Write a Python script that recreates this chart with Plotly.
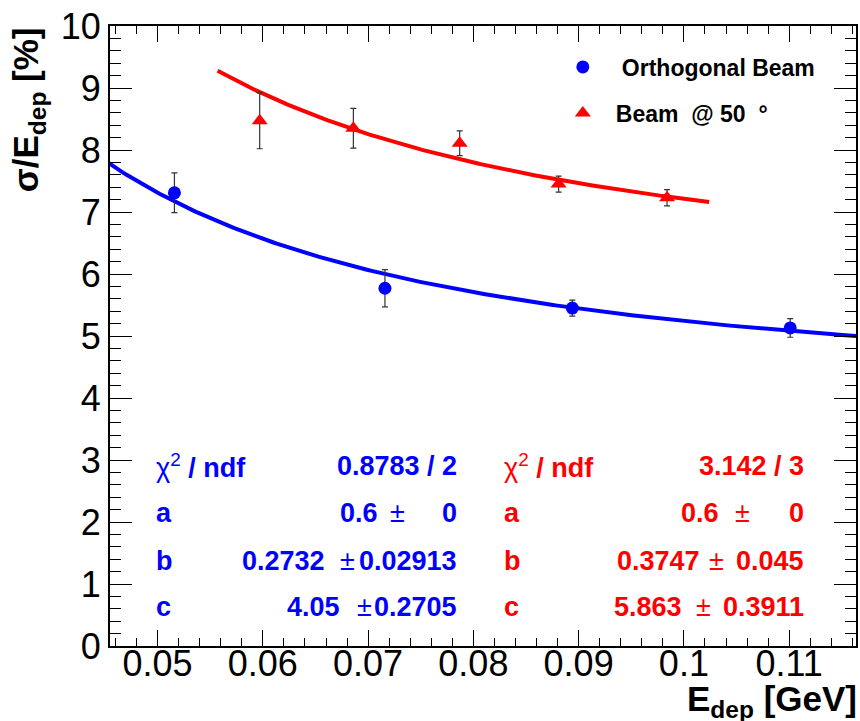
import numpy as np
import plotly.graph_objects as go

# ---------------- data ----------------
blue_x = [0.0516, 0.0716, 0.0894, 0.1101]
blue_y = [7.31, 5.77, 5.45, 5.13]
blue_err = [0.32, 0.30, 0.13, 0.15]

red_x = [0.0597, 0.0686, 0.0787, 0.0881, 0.0984]
red_y = [8.47, 8.35, 8.11, 7.45, 7.23]
red_err = [0.45, 0.32, 0.20, 0.13, 0.13]

# fit parameters  sigma/E = sqrt(a^2/E + b^2/E^2 + c^2)
blue_par = [0.6, 0.2732, 4.05]
red_par = [0.6, 0.3747, 5.863]
blue_fit_range = [0.044, 0.118]
red_fit_range = [0.0557, 0.1024]

x_ticks = [0.05, 0.06, 0.07, 0.08, 0.09, 0.10, 0.11]
x_ticktext = ["0.05", "0.06", "0.07", "0.08", "0.09", "0.1", "0.11"]
y_ticks = list(range(0, 11))

legend_labels = ["Orthogonal Beam", "Beam\u00a0\u00a0@ 50\u00a0\u00a0°"]

stat_labels = ["χ<sup>2</sup> / ndf", "a", "b", "c"]
blue_chi2 = "0.8783 / 2"
blue_vals = ["0.6", "0.2732", "4.05"]
blue_errs = ["0", "0.02913", "0.2705"]
red_chi2 = "3.142 / 3"
red_vals = ["0.6", "0.3747", "5.863"]
red_errs = ["0", "0.045", "0.3911"]

BLUE = "#0000ff"
RED = "#ff0000"
FONT = "Liberation Sans, Arial, sans-serif"

# ---------------- layout helpers (pixel -> paper) ----------------
W, H = 860, 721
L, R, T, B = 110, 2, 26, 75
PW, PH = W - L - R, H - T - B


def px(p):
    return (p - L) / PW


def py(p):
    return (H - B - p) / PH


def fit(par, xs):
    a, b, c = par
    xs = np.asarray(xs)
    return np.sqrt(a ** 2 / xs + (b / xs) ** 2 + c ** 2)


fig = go.Figure()

bx = np.linspace(blue_fit_range[0], blue_fit_range[1], 300)
rx = np.linspace(red_fit_range[0], red_fit_range[1], 300)
fig.add_trace(go.Scatter(x=bx, y=fit(blue_par, bx), mode="lines",
                         line=dict(color=BLUE, width=4), showlegend=False,
                         hoverinfo="skip"))
fig.add_trace(go.Scatter(x=rx, y=fit(red_par, rx), mode="lines",
                         line=dict(color=RED, width=4), showlegend=False,
                         hoverinfo="skip"))

fig.add_trace(go.Scatter(
    x=blue_x, y=blue_y, mode="markers", name="<b>" + legend_labels[0] + "</b>",
    marker=dict(symbol="circle", size=13, color=BLUE),
    error_y=dict(type="data", array=blue_err, color="#333333", thickness=1.2, width=3),
    legend="legend"))
fig.add_trace(go.Scatter(
    x=red_x, y=red_y, mode="markers", name="<b>" + legend_labels[1] + "</b>",
    marker=dict(symbol="triangle-up", size=14, color=RED),
    error_y=dict(type="data", array=red_err, color="#333333", thickness=1.2, width=3),
    legend="legend2"))

ann = []


def txt(text, x, y, color, size=27, xanchor="left", yanchor="middle", angle=0):
    ann.append(dict(text=text, x=px(x), y=py(y), xref="paper", yref="paper",
                    xanchor=xanchor, yanchor=yanchor, showarrow=False,
                    textangle=angle, font=dict(family=FONT, size=size, color=color)))


row_y = [466, 513, 561, 607]
# blue stats
txt("χ<sup>2</sup><b> / ndf</b>", 154, row_y[0], BLUE)
txt("<b>" + blue_chi2 + "</b>", 460, row_y[0], BLUE, xanchor="right")
for i, lab in enumerate(stat_labels[1:]):
    txt("<b>" + lab + "</b>", 154, row_y[i + 1], BLUE)
blue_val_right = [381, 328, 343]
blue_pm_center = [398, 348, 365]
for i in range(3):
    txt("<b>" + blue_vals[i] + "</b>", blue_val_right[i], row_y[i + 1], BLUE, xanchor="right")
    txt("±", blue_pm_center[i], row_y[i + 1], BLUE, xanchor="center")
    txt("<b>" + blue_errs[i] + "</b>", 460, row_y[i + 1], BLUE, xanchor="right")

# red stats
txt("χ<sup>2</sup><b> / ndf</b>", 503, row_y[0], RED)
txt("<b>" + red_chi2 + "</b>", 808, row_y[0], RED, xanchor="right")
for i, lab in enumerate(stat_labels[1:]):
    txt("<b>" + lab + "</b>", 503, row_y[i + 1], RED)
red_val_right = [723, 704, 686]
red_pm_center = [744, 718, 705]
for i in range(3):
    txt("<b>" + red_vals[i] + "</b>", red_val_right[i], row_y[i + 1], RED, xanchor="right")
    txt("±", red_pm_center[i], row_y[i + 1], RED, xanchor="center")
    txt("<b>" + red_errs[i] + "</b>", 808, row_y[i + 1], RED, xanchor="right")

# axis titles
txt("<b>E<sub>dep</sub> [GeV]</b>", 861, 701, "black", size=35, xanchor="right")
txt("<b>σ/E<sub>dep</sub> [%]</b>", 28, 110, "black", size=35, xanchor="center", angle=-90)

fig.update_layout(annotations=ann)

axis_common = dict(showline=True, linewidth=2, linecolor="black", mirror="ticks",
                   ticks="inside", tickcolor="black", tickwidth=1,
                   showgrid=False, zeroline=False,
                   tickfont=dict(family=FONT, size=36, color="black"))

fig.update_xaxes(range=[0.04548, 0.11635], tickmode="array", tickvals=x_ticks,
                 ticktext=x_ticktext, ticklen=16, ticklabelstandoff=-15,
                 minor=dict(ticks="inside", ticklen=8, tickmode="linear", tick0=0.05,
                            dtick=0.002, tickcolor="black", tickwidth=1, showgrid=False),
                 **axis_common)
fig.update_yaxes(range=[0, 10], tickmode="array", tickvals=y_ticks, ticklen=22,
                 minor=dict(ticks="inside", ticklen=11, tickmode="linear", tick0=0,
                            dtick=0.2, tickcolor="black", tickwidth=1, showgrid=False),
                 **axis_common)

leg_common = dict(bgcolor="rgba(0,0,0,0)", borderwidth=0, xanchor="left",
                  yanchor="middle", font=dict(family=FONT, size=23, color="black"))
fig.update_layout(
    width=W, height=H,
    margin=dict(l=L, r=R, t=T, b=B),
    paper_bgcolor="white", plot_bgcolor="white",
    legend=dict(x=px(545), y=py(67), itemwidth=68, **leg_common),
    legend2=dict(x=px(551), y=py(113), itemwidth=56, **leg_common),
)

fig.write_html("out.html")
